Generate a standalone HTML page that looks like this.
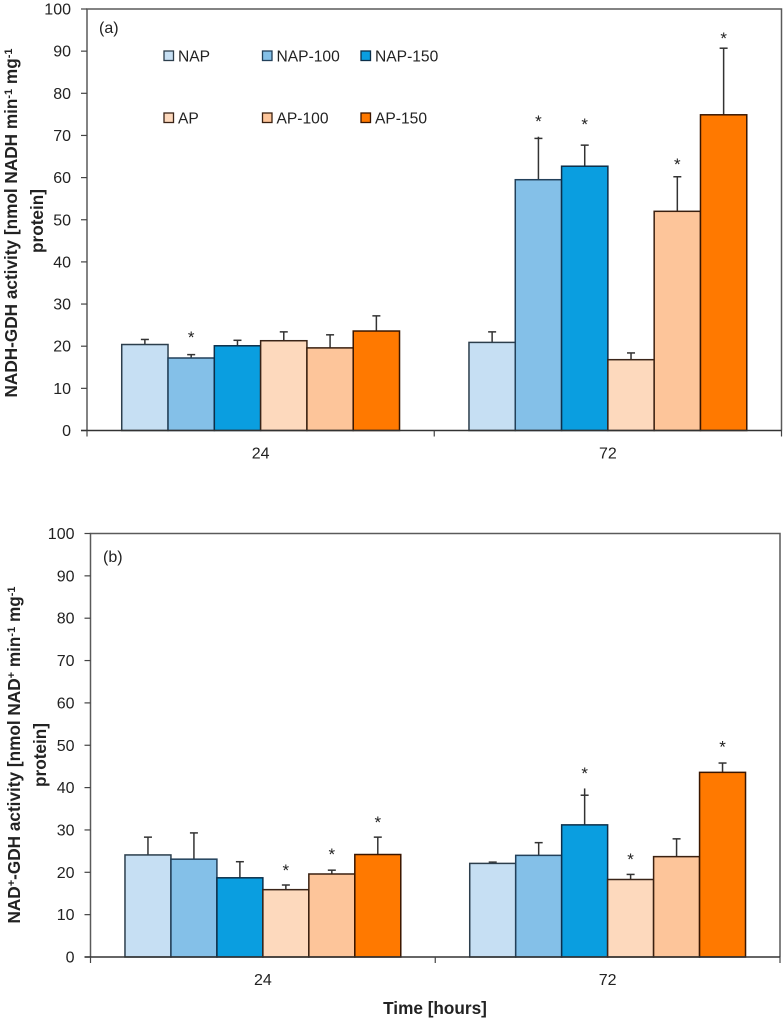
<!DOCTYPE html>
<html lang="en">
<head>
<meta charset="utf-8">
<title>NADH-GDH and NAD+-GDH activity</title>
<style>
html,body{margin:0;padding:0;background:#fff;width:784px;height:1021px;overflow:hidden}
svg{display:block}
text{font-family:"Liberation Sans",sans-serif;fill:#222}
</style>
</head>
<body>
<svg id="figure" xmlns="http://www.w3.org/2000/svg" width="784" height="1021" viewBox="0 0 784 1021">
  <text x="99" y="33" font-size="16">(a)</text>
  <text x="103" y="562" font-size="16">(b)</text>

  <text transform="translate(17,223) rotate(-90)" text-anchor="middle" font-size="17.2" font-weight="bold">NADH-GDH activity [nmol NADH min<tspan dy="-5" font-size="11">-1</tspan><tspan dy="5"> mg</tspan><tspan dy="-5" font-size="11">-1</tspan></text>
  <text transform="translate(43,221) rotate(-90)" text-anchor="middle" font-size="17.2" font-weight="bold">protein]</text>

  <text transform="translate(20,755) rotate(-90)" text-anchor="middle" font-size="17.2" font-weight="bold">NAD<tspan dy="-5" font-size="11">+</tspan><tspan dy="5">-GDH activity [nmol NAD</tspan><tspan dy="-5" font-size="11">+</tspan><tspan dy="5"> min</tspan><tspan dy="-5" font-size="11">-1</tspan><tspan dy="5"> mg</tspan><tspan dy="-5" font-size="11">-1</tspan></text>
  <text transform="translate(46,755) rotate(-90)" text-anchor="middle" font-size="17.2" font-weight="bold">protein]</text>

  <text x="435" y="1014" text-anchor="middle" font-size="17.2" font-weight="bold">Time [hours]</text>
</svg>
<script>
// ---- chart data ----
const categories = ['24', '72'];
const seriesNames = ['NAP', 'NAP-100', 'NAP-150', 'AP', 'AP-100', 'AP-150'];
const yTicks = [0, 10, 20, 30, 40, 50, 60, 70, 80, 90, 100];

const panelAMeans = [
  [20.4, 17.2, 20.1, 21.3, 19.6, 23.6],
  [20.9, 59.5, 62.7, 16.8, 52.0, 74.9]
];
const panelAErrorTops = [
  [21.6, 18.0, 21.4, 23.4, 22.7, 27.2],
  [23.4, 69.3, 67.7, 18.4, 60.2, 90.7]
];
const panelAStemTops = [
  [null, null, null, null, null, null],
  [null, 69.7, null, null, null, null]
];
const panelAStars = [
  [null, 22.4, null, null, null, null],
  [null, 73.7, 72.9, null, 63.5, 93.3]
];

const panelBMeans = [
  [24.1, 23.1, 18.7, 15.9, 19.6, 24.2],
  [22.1, 24.0, 31.2, 18.3, 23.7, 43.6]
];
const panelBErrorTops = [
  [28.3, 29.3, 22.5, 17.0, 20.5, 28.3],
  [22.4, 27.0, 38.2, 19.5, 27.9, 45.8]
];
const panelBStemTops = [
  [null, null, null, null, null, null],
  [null, null, 39.8, null, null, null]
];
const panelBStars = [
  [null, null, null, 20.8, 24.6, 32.1],
  [null, null, 43.7, 23.4, null, 50.0]
];

// ---- styling and layout ----
const fills = ['#c6dff3', '#84c0e8', '#0a9ee0', '#fdd9bd', '#fdc59a', '#ff7900'];
const strokes = ['#2c3e4c', '#22405a', '#0c2f4a', '#3a2418', '#3a2010', '#3a1600'];
const NS = 'http://www.w3.org/2000/svg';
const svg = document.getElementById('figure');

function make(tag, attrs, parent) {
  const el = document.createElementNS(NS, tag);
  for (const k in attrs) el.setAttribute(k, attrs[k]);
  (parent || svg).appendChild(el);
  return el;
}

function drawPanel(id, box, means, errorTops, stemTops, stars) {
  const g = make('g', {});
  
  

  const yScale = v => box.bottom - (v / 100) * (box.bottom - box.top);
  const groupWidth = (box.right - box.left) / categories.length;
  const barWidth = groupWidth / (seriesNames.length + 1.5);
  const xBar = (c, s) => box.left + groupWidth * c + barWidth * 0.75 + barWidth * s;

  // frame
  const frame = make('path', {
    d: 'M' + box.left + ' ' + box.bottom + 'V' + box.top + 'H' + box.right + 'V' + box.bottom,
    fill: 'none', stroke: '#5a5a5a', 'stroke-width': 1.5
  }, g);
  
  

  // y ticks
  yTicks.forEach(t => {
    const y = yScale(t);
    const tick = make('line', { x1: box.left - 6, x2: box.left, y1: y, y2: y, stroke: '#444', 'stroke-width': 1.2 }, g);
    
    
    const lab = make('text', { x: box.left - 16, y: y + 5.5, 'text-anchor': 'end', 'font-size': 16 }, g);
    lab.textContent = t;
    
    
  });

  // bars, error bars and significance stars
  categories.forEach((cat, c) => {
    seriesNames.forEach((name, s) => {
      const x = xBar(c, s);
      const cx = x + barWidth / 2;
      const yTop = yScale(means[c][s]);
      const yErr = yScale(errorTops[c][s]);
      const yStem = stemTops[c][s] === null ? yErr : yScale(stemTops[c][s]);

      const stem = make('line', { x1: cx, x2: cx, y1: yTop, y2: yStem, stroke: '#333', 'stroke-width': 1.5 }, g);
      
      
      const cap = make('line', { x1: cx - 4, x2: cx + 4, y1: yErr, y2: yErr, stroke: '#333', 'stroke-width': 1.5 }, g);
      
      

      const bar = make('rect', {
        x: x, y: yTop, width: barWidth, height: box.bottom - yTop,
        fill: fills[s], stroke: strokes[s], 'stroke-width': 1.5
      }, g);
      
      

      if (stars[c][s] !== null) {
        const star = make('text', { x: cx, y: yScale(stars[c][s]) + 7, 'text-anchor': 'middle', 'font-size': 17 }, g);
        star.textContent = '*';
        
        
      }
    });

    const catLab = make('text', {
      x: box.left + groupWidth * (c + 0.5), y: box.bottom + 28,
      'text-anchor': 'middle', 'font-size': 16
    }, g);
    catLab.textContent = cat;
    
    
  });

  // x axis
  const axis = make('line', { x1: box.left - 6, x2: box.right, y1: box.bottom, y2: box.bottom, stroke: '#333', 'stroke-width': 1.4 }, g);
  
  
  for (let i = 0; i <= categories.length; i++) {
    const tx = box.left + groupWidth * i;
    const xt = make('line', { x1: tx, x2: tx, y1: box.bottom, y2: box.bottom + 6, stroke: '#444', 'stroke-width': 1.2 }, g);
    
    
  }
}

drawPanel('panel-a', { left: 87, right: 781.5, top: 9, bottom: 430.5 },
  panelAMeans, panelAErrorTops, panelAStemTops, panelAStars);
drawPanel('panel-b', { left: 90.5, right: 780, top: 533.5, bottom: 957 },
  panelBMeans, panelBErrorTops, panelBStemTops, panelBStars);

// legend
const legendColumns = [164, 262.5, 361];
const legendRows = [51, 113];
const legend = make('g', {});


seriesNames.forEach((name, i) => {
  const col = legendColumns[i % 3];
  const row = legendRows[Math.floor(i / 3)];
  const sw = make('rect', { x: col, y: row, width: 9.5, height: 9.5, fill: fills[i], stroke: strokes[i], 'stroke-width': 1.3 }, legend);
  
  
  const tx = make('text', { x: col + 14, y: row + 10.5, 'font-size': 15.6 }, legend);
  tx.textContent = name;
  
  
});
</script>
</body>
</html>
